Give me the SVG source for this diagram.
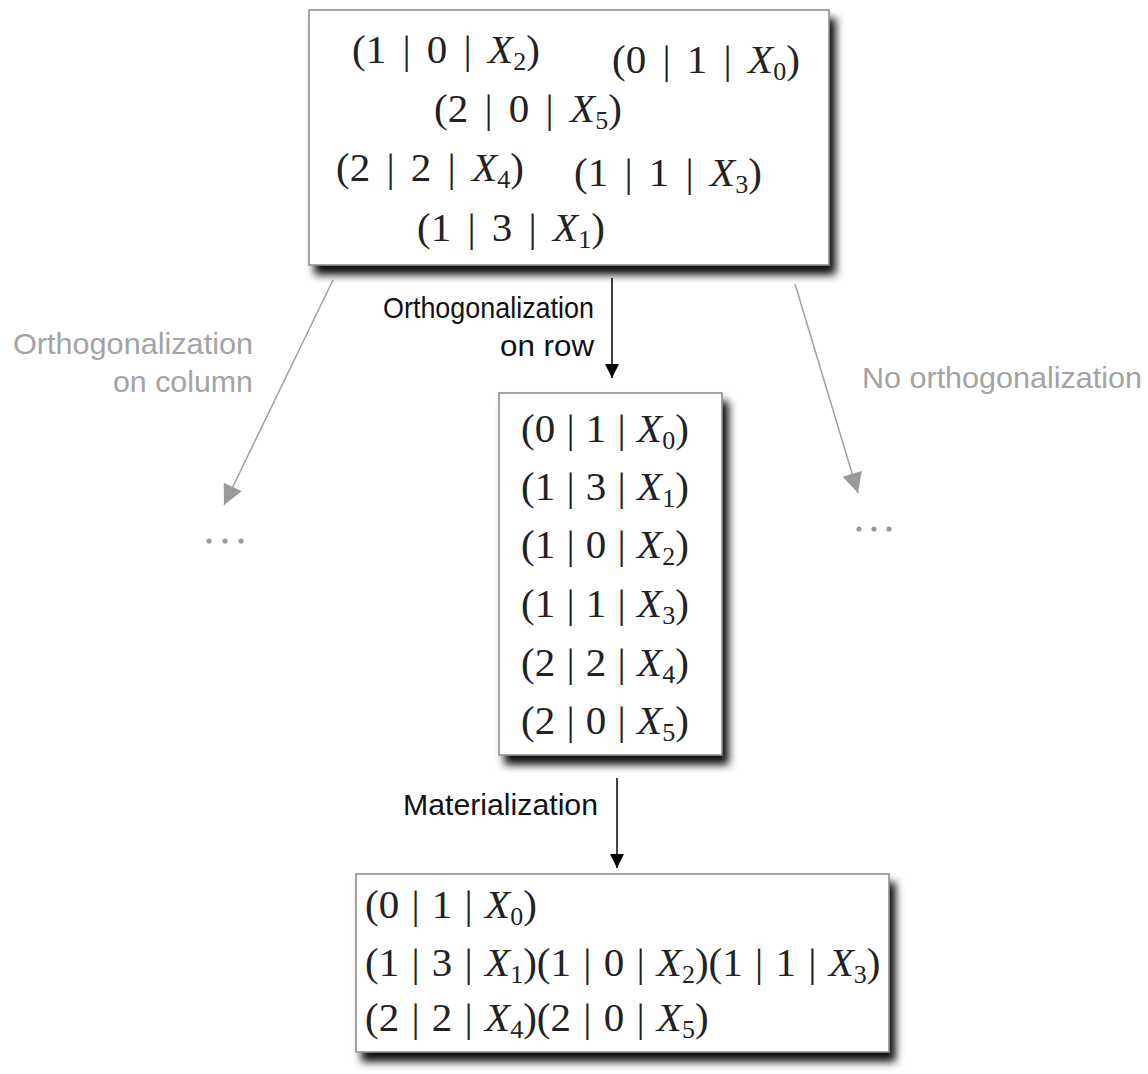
<svg xmlns="http://www.w3.org/2000/svg" width="1148" height="1074" viewBox="0 0 1148 1074">
<defs>
<filter id="sh" x="-5%" y="-5%" width="115%" height="125%">
<feDropShadow dx="6" dy="9" stdDeviation="4" flood-color="#000" flood-opacity="0.95"/>
</filter>
<marker id="ab" viewBox="0 0 10 10" refX="10" refY="5" markerWidth="14" markerHeight="20" markerUnits="userSpaceOnUse" orient="auto">
<path d="M0,0 L10,5 L0,10 z" fill="#000"/>
</marker>
<marker id="ag" viewBox="0 0 10 10" refX="10" refY="5" markerWidth="26" markerHeight="20" markerUnits="userSpaceOnUse" orient="auto">
<path d="M0,0 L10,5 L0,10 z" fill="#999"/>
</marker>
</defs>
<style>
.box{fill:#fff;stroke:#888;stroke-width:1.5;filter:url(#sh)}
.m{font-family:"Liberation Serif",serif;font-size:41px;fill:#222;word-spacing:6px}
.m2{font-family:"Liberation Serif",serif;font-size:41px;fill:#222;word-spacing:1px}
.m3{font-family:"Liberation Serif",serif;font-size:41px;fill:#222;word-spacing:2px}
.i{font-style:italic}
.s{font-size:26px}
.lb{font-family:"Liberation Sans",Arial,sans-serif;font-size:30px;fill:#111}
.lg{font-family:"Liberation Sans",Arial,sans-serif;font-size:30px;fill:#a3a3a3}
.ck{stroke:#000;stroke-width:1.5;fill:none}
.cg{stroke:#a0a0a0;stroke-width:1.5;fill:none}
</style>

<g id="connectors">
<line class="ck" x1="612" y1="278" x2="612" y2="378" marker-end="url(#ab)"/>
<line class="ck" x1="617" y1="778" x2="617" y2="868" marker-end="url(#ab)"/>
<line class="cg" x1="333" y1="280" x2="224" y2="505" marker-end="url(#ag)"/>
<line class="cg" x1="795" y1="284" x2="858" y2="493" marker-end="url(#ag)"/>
</g>

<g id="labels">
<text class="lb" x="594" y="318" text-anchor="end" textLength="211" lengthAdjust="spacingAndGlyphs">Orthogonalization</text>
<text class="lb" x="594" y="356" text-anchor="end" textLength="94" lengthAdjust="spacingAndGlyphs">on row</text>
<text class="lg" x="13" y="354" textLength="240" lengthAdjust="spacingAndGlyphs">Orthogonalization</text>
<text class="lg" x="253" y="392" text-anchor="end" textLength="140" lengthAdjust="spacingAndGlyphs">on column</text>
<text class="lg" x="862" y="388" textLength="280" lengthAdjust="spacingAndGlyphs">No orthogonalization</text>
<text class="lb" x="403" y="815" textLength="195" lengthAdjust="spacingAndGlyphs">Materialization</text>
<g fill="#999">
<circle cx="209" cy="541" r="2.6"/><circle cx="225" cy="541" r="2.6"/><circle cx="241" cy="541" r="2.6"/>
<circle cx="859" cy="529" r="2.6"/><circle cx="874" cy="529" r="2.6"/><circle cx="889" cy="529" r="2.6"/>
</g>
</g>

<g id="node-top">
<rect class="box" x="309" y="10" width="520" height="255"/>
<text class="m" x="352" y="63">(1 | 0 | <tspan class="i">X</tspan><tspan class="s" dy="7">2</tspan><tspan dy="-7">)</tspan></text>
<text class="m" x="612" y="73">(0 | 1 | <tspan class="i">X</tspan><tspan class="s" dy="7">0</tspan><tspan dy="-7">)</tspan></text>
<text class="m" x="434" y="122">(2 | 0 | <tspan class="i">X</tspan><tspan class="s" dy="7">5</tspan><tspan dy="-7">)</tspan></text>
<text class="m" x="336" y="181">(2 | 2 | <tspan class="i">X</tspan><tspan class="s" dy="7">4</tspan><tspan dy="-7">)</tspan></text>
<text class="m" x="574" y="186">(1 | 1 | <tspan class="i">X</tspan><tspan class="s" dy="7">3</tspan><tspan dy="-7">)</tspan></text>
<text class="m" x="417" y="241">(1 | 3 | <tspan class="i">X</tspan><tspan class="s" dy="7">1</tspan><tspan dy="-7">)</tspan></text>
</g>

<g id="node-middle">
<rect class="box" x="499" y="393" width="223" height="362"/>
<text class="m2" x="521" y="442">(0 | 1 | <tspan class="i">X</tspan><tspan class="s" dy="7">0</tspan><tspan dy="-7">)</tspan></text>
<text class="m2" x="521" y="500">(1 | 3 | <tspan class="i">X</tspan><tspan class="s" dy="7">1</tspan><tspan dy="-7">)</tspan></text>
<text class="m2" x="521" y="558">(1 | 0 | <tspan class="i">X</tspan><tspan class="s" dy="7">2</tspan><tspan dy="-7">)</tspan></text>
<text class="m2" x="521" y="617">(1 | 1 | <tspan class="i">X</tspan><tspan class="s" dy="7">3</tspan><tspan dy="-7">)</tspan></text>
<text class="m2" x="521" y="676">(2 | 2 | <tspan class="i">X</tspan><tspan class="s" dy="7">4</tspan><tspan dy="-7">)</tspan></text>
<text class="m2" x="521" y="734">(2 | 0 | <tspan class="i">X</tspan><tspan class="s" dy="7">5</tspan><tspan dy="-7">)</tspan></text>
</g>

<g id="node-bottom">
<rect class="box" x="356" y="874" width="533" height="178"/>
<text class="m3" x="365" y="918">(0 | 1 | <tspan class="i">X</tspan><tspan class="s" dy="7">0</tspan><tspan dy="-7">)</tspan></text>
<text class="m3" x="365" y="976">(1 | 3 | <tspan class="i">X</tspan><tspan class="s" dy="7">1</tspan><tspan dy="-7">)(1 | 0 | </tspan><tspan class="i">X</tspan><tspan class="s" dy="7">2</tspan><tspan dy="-7">)(1 | 1 | </tspan><tspan class="i">X</tspan><tspan class="s" dy="7">3</tspan><tspan dy="-7">)</tspan></text>
<text class="m3" x="365" y="1031">(2 | 2 | <tspan class="i">X</tspan><tspan class="s" dy="7">4</tspan><tspan dy="-7">)(2 | 0 | </tspan><tspan class="i">X</tspan><tspan class="s" dy="7">5</tspan><tspan dy="-7">)</tspan></text>
</g>
</svg>
